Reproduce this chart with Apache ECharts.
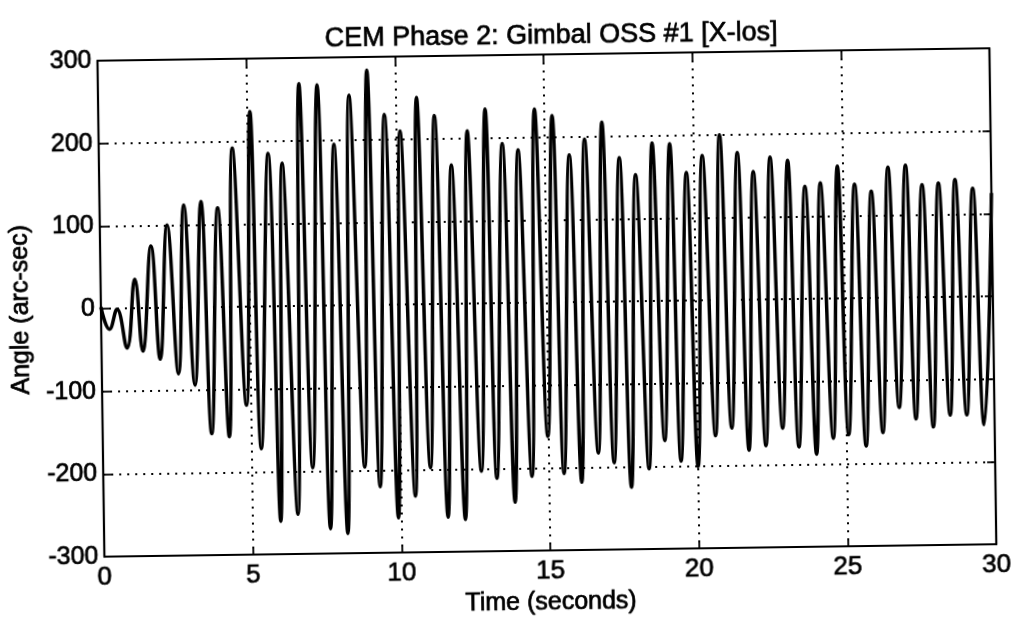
<!DOCTYPE html>
<html>
<head>
<meta charset="utf-8">
<script src="https://cdn.jsdelivr.net/npm/echarts@6/dist/echarts.min.js"></script>
<style>
html,body{margin:0;padding:0;background:#fff;width:1017px;height:621px;overflow:hidden;}
#chart{width:1017px;height:621px;transform:rotate(-0.8deg);transform-origin:50% 50%;background:#fff;}
</style>
</head>
<body>
<div id="chart"></div>
<script>
// Extrema of the trace (time in seconds, angle in arc-sec)
const timeSec = [
  0.00, 0.28, 0.54, 0.86, 1.15, 1.39, 1.71, 1.97, 2.26, 2.58,
  2.83, 3.13, 3.41, 3.67, 3.97, 4.26, 4.49, 4.85, 5.10, 5.33,
  5.69, 5.95, 6.16, 6.53, 6.76, 7.05, 7.37, 7.62, 7.91, 8.20,
  8.44, 8.80, 9.05, 9.31, 9.62, 9.91, 10.14, 10.49, 10.71, 11.01,
  11.30, 11.58, 11.85, 12.16, 12.40, 12.72, 13.01, 13.24, 13.57, 13.84,
  14.10, 14.42, 14.67, 14.97, 15.26, 15.50, 15.82, 16.09, 16.34, 16.66,
  16.93, 17.19, 17.50, 17.76, 18.04, 18.36, 18.61, 18.90, 19.20, 19.44,
  19.75, 20.01, 20.29, 20.61, 20.88, 21.16, 21.47, 21.73, 22.00, 22.30,
  22.57, 22.87, 23.16, 23.41, 23.73, 24.00, 24.25, 24.57, 24.83, 25.09,
  25.40, 25.67, 25.96, 26.24, 26.53, 26.80, 27.12, 27.36, 27.67, 27.94,
  28.22, 28.51, 28.78, 29.07, 29.37, 29.65, 30.00
];
const angleArcsec = [
  2, -25, -1, -48, 35, -52, 75, -62, 100, -80,
  124, -94, 128, -153, 120, -157, 192, -119, 236, -172,
  185, -260, 173, -252, 269, -196, 267, -270, 195, -276,
  254, -196, 284, -220, 230, -258, 210, -232, 250, -198,
  228, -258, 168, -261, 209, -203, 235, -212, 193, -241,
  185, -210, 234, -162, 226, -207, 178, -218, 197, -183,
  217, -195, 174, -225, 153, -203, 191, -169, 190, -194,
  155, -201, 175, -164, 200, -155, 178, -182, 155, -177,
  172, -156, 168, -179, 136, -188, 140, -169, 160, -165,
  138, -179, 129, -163, 158, -133, 160, -147, 136, -157,
  138, -143, 142, -143, 131, -155, 125
];
const xTicks = [0, 5, 10, 15, 20, 25, 30];
const yTicks = [-300, -200, -100, 0, 100, 200, 300];

const FONT = "'Liberation Sans', Arial, Helvetica, sans-serif";
const data = timeSec.map((t, i) => [t, angleArcsec[i]]);

const heavy = {textBorderColor: '#000', textBorderWidth: 0.7};
const gridLine = {show: true, lineStyle: {color: '#000', width: 2, type: [2, 6]}};
const axLine = {show: true, onZero: false, lineStyle: {color: '#000', width: 2.2}};
const tick = {show: true, inside: true, length: 8, lineStyle: {color: '#000', width: 1.8}};
const lbl = Object.assign({color: '#000', fontSize: 25, fontFamily: FONT}, heavy);

const chart = echarts.init(document.getElementById('chart'), null, {renderer: 'canvas'});
chart.setOption({
  backgroundColor: '#fff',
  animation: false,
  title: {
    text: 'CEM Phase 2: Gimbal OSS #1 [X-los]',
    left: 550, top: 18, textAlign: 'center',
    textStyle: Object.assign({color: '#000', fontSize: 27, fontWeight: 'normal', fontFamily: FONT}, heavy)
  },
  grid: {left: 97, right: 24, top: 55, bottom: 66, containLabel: false},
  xAxis: [
    {type: 'value', position: 'bottom', min: xTicks[0], max: xTicks[xTicks.length - 1], interval: 5,
     axisLine: axLine, axisTick: tick, splitLine: gridLine,
     axisLabel: Object.assign({margin: 8}, lbl, {fontSize: 26}),
     name: 'Time (seconds)', nameLocation: 'middle', nameGap: 37,
     nameTextStyle: Object.assign({color: '#000', fontSize: 25, fontFamily: FONT}, heavy)},
    {type: 'value', position: 'top', min: xTicks[0], max: xTicks[xTicks.length - 1], interval: 5,
     axisLine: axLine, axisTick: tick, splitLine: {show: false}, axisLabel: {show: false}}
  ],
  yAxis: [
    {type: 'value', position: 'left', min: yTicks[0], max: yTicks[yTicks.length - 1], interval: 100,
     axisLine: axLine, axisTick: tick, splitLine: gridLine,
     axisLabel: Object.assign({margin: 6}, lbl),
     name: 'Angle (arc-sec)', nameLocation: 'middle', nameGap: 62, nameRotate: 90,
     nameTextStyle: Object.assign({color: '#000', fontSize: 25, fontFamily: FONT}, heavy)},
    {type: 'value', position: 'right', min: yTicks[0], max: yTicks[yTicks.length - 1], interval: 100,
     axisLine: axLine, axisTick: tick, splitLine: {show: false}, axisLabel: {show: false}}
  ],
  series: [{
    type: 'line', xAxisIndex: 0, yAxisIndex: 0,
    data: data, showSymbol: false, smooth: 0.45,
    lineStyle: {color: '#000', width: 3.5}
  }]
});
</script>
</body>
</html>
